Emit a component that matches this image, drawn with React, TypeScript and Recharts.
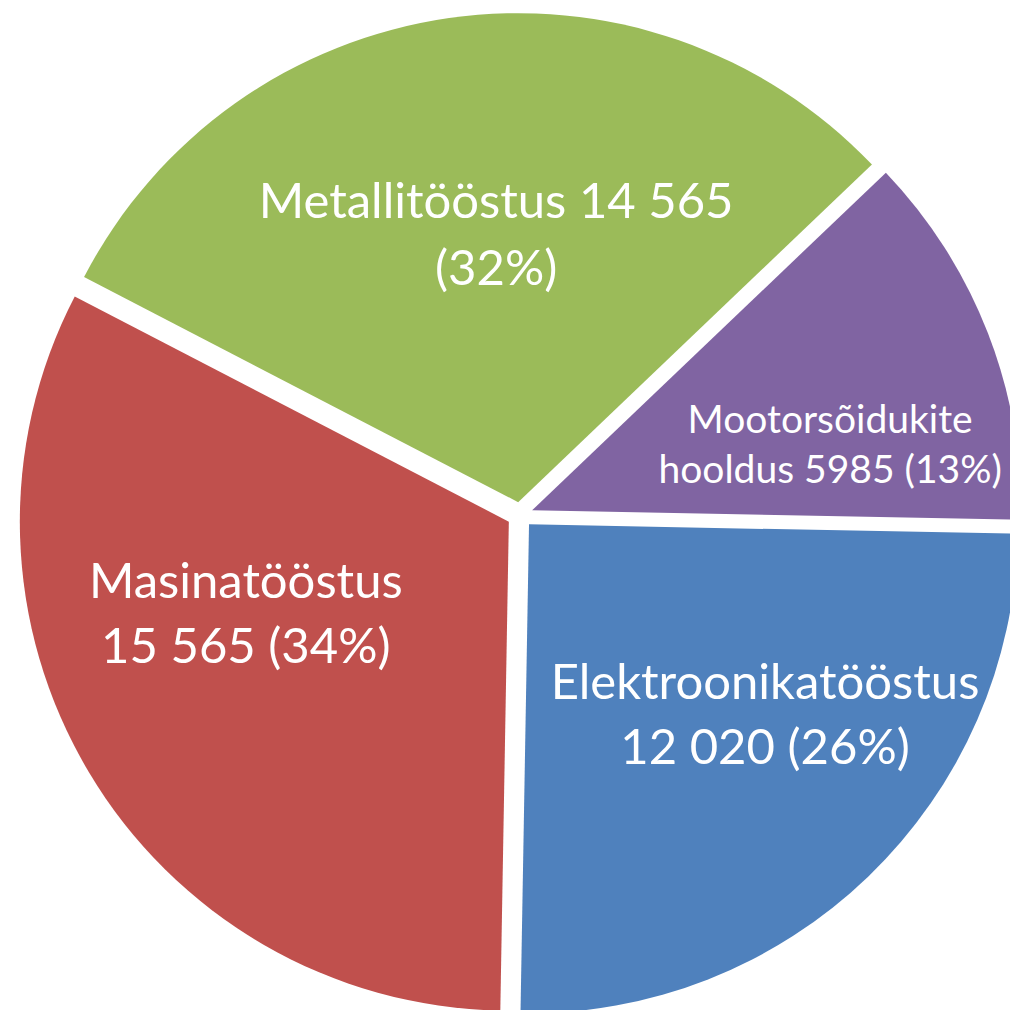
import { PieChart, Pie, Cell } from 'recharts';

// Values from the chart
const categories = ['Masinatööstus', 'Metallitööstus', 'Mootorsõidukite hooldus', 'Elektroonikatööstus'];
const values = [15565, 14565, 5985, 12020];
const labelLines = [
  ['Masinatööstus', '15 565 (34%)'],
  ['Metallitööstus 14 565', '(32%)'],
  ['Mootorsõidukite', 'hooldus 5985 (13%)'],
  ['Elektroonikatööstus', '12 020 (26%)'],
];
const COLORS = ['#C0504D', '#9BBB59', '#8064A2', '#4F81BD'];

const data = categories.map((name, i) => ({ name, value: values[i] }));

// Layout
const SIZE = 1010;
const CX = 520;
const CY = 515;
const R = 489;
const EXPLODE = 13;
const START = -91;
const END = -451;
const FONT = 'Lato, "Open Sans", sans-serif';
const LABEL_OFFSETS = [
  [-263, 90],
  [-22, -270],
  [298, -67],
  [236, 188],
];
const FONT_SIZES = [49, 49, 39, 49];
const LINE_GAPS = [65, 67, 50, 65];

const total = values.reduce((a, b) => a + b, 0);
const offsets = values.map((v, i) => {
  const before = values.slice(0, i).reduce((a, b) => a + b, 0);
  const mid = START + ((before + v / 2) / total) * (END - START);
  const rad = (mid * Math.PI) / 180;
  return [EXPLODE * Math.cos(rad), -EXPLODE * Math.sin(rad)];
});

const renderLabel = (target: number) => (props: any) => {
  if (props.index !== target) return <g />;
  const { cx, cy } = props;
  const [ox, oy] = LABEL_OFFSETS[target];
  const gap = LINE_GAPS[target];
  const x = cx + ox;
  const y = cy + oy;
  return (
    <text
      x={x}
      y={y}
      fill="#fff"
      textAnchor="middle"
      dominantBaseline="central"
      fontFamily={FONT}
      fontSize={FONT_SIZES[target]}
    >
      <tspan x={x} y={y - gap / 2}>{labelLines[target][0]}</tspan>
      <tspan x={x} y={y + gap / 2}>{labelLines[target][1]}</tspan>
    </text>
  );
};

export default function App() {
  return (
    <div style={{ position: 'absolute', left: 0, top: 0, width: SIZE, height: SIZE, background: '#fff' }}>
      <PieChart width={SIZE} height={SIZE} margin={{ top: 0, right: 0, bottom: 0, left: 0 }}>
        {values.map((_, target) => (
          <Pie
            key={target}
            data={data}
            dataKey="value"
            cx={CX + offsets[target][0]}
            cy={CY + offsets[target][1]}
            outerRadius={R}
            startAngle={START}
            endAngle={END}
            stroke="none"
            label={renderLabel(target)}
            labelLine={false}
            isAnimationActive={false}
          >
            {data.map((d, i) => (
              <Cell key={d.name} fill={i === target ? COLORS[i] : 'none'} />
            ))}
          </Pie>
        ))}
      </PieChart>
    </div>
  );
}
